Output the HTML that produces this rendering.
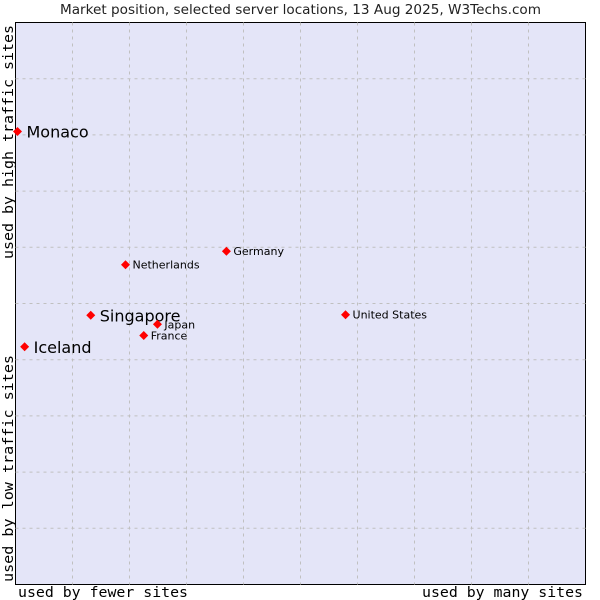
<!DOCTYPE html>
<html><head><meta charset="utf-8"><style>
body{margin:0;background:#fff;width:600px;height:600px;overflow:hidden}
svg{display:block}
</style></head><body>
<svg id="chart" width="600" height="600" xmlns="http://www.w3.org/2000/svg">
<text x="60" y="14" textLength="481" lengthAdjust="spacingAndGlyphs" font-family="DejaVu Sans, sans-serif" font-size="13" fill="#222">Market position, selected server locations, 13 Aug 2025, W3Techs.com</text>
<rect x="15.5" y="22.5" width="570" height="562" fill="#e4e5f8" stroke="#000" stroke-width="1"/>
<g id="grid"></g>
<g id="points"></g>
<text x="18" y="597" textLength="170" lengthAdjust="spacingAndGlyphs" font-family="DejaVu Sans Mono, monospace" font-size="14" fill="#000">used by fewer sites</text>
<text x="422" y="597" textLength="161" lengthAdjust="spacingAndGlyphs" font-family="DejaVu Sans Mono, monospace" font-size="14" fill="#000">used by many sites</text>
<text transform="translate(13,582) rotate(-90)" textLength="227" lengthAdjust="spacingAndGlyphs" font-family="DejaVu Sans Mono, monospace" font-size="14" fill="#000">used by low traffic sites</text>
<text transform="translate(13,259) rotate(-90)" textLength="234" lengthAdjust="spacingAndGlyphs" font-family="DejaVu Sans Mono, monospace" font-size="14" fill="#000">used by high traffic sites</text>
</svg>
<script>
const names = ["Monaco","Iceland","Singapore","Netherlands","Germany","Japan","France","United States"];
const xValues = [0.35,1.6,13.2,19.3,37.0,24.9,22.5,57.9];
const yValues = [80.6,42.3,47.9,56.9,59.3,46.3,44.3,48.0];
const bigLabel = [true,true,true,false,false,false,false,false];
const L=15.5,R=585.5,T=22.5,B=584.5;
const sx=v=>L+(R-L)*v/100, sy=v=>B-(B-T)*v/100;
const NS="http://www.w3.org/2000/svg";
const grid=document.getElementById('grid');
for(let i=1;i<10;i++){
  const x=L+(R-L)*i/10;
  const l=document.createElementNS(NS,'line');
  l.setAttribute('x1',x);l.setAttribute('x2',x);l.setAttribute('y1',T);l.setAttribute('y2',B);
  l.setAttribute('stroke','#c0c0c0');l.setAttribute('stroke-dasharray','3,4');
  
  
  grid.appendChild(l);
  const y=T+(B-T)*i/10;
  const h=document.createElementNS(NS,'line');
  h.setAttribute('x1',L);h.setAttribute('x2',R);h.setAttribute('y1',y);h.setAttribute('y2',y);
  h.setAttribute('stroke','#c0c0c0');h.setAttribute('stroke-dasharray','3,4');
  
  
  grid.appendChild(h);
}
const pts=document.getElementById('points');
names.forEach((n,i)=>{
  const x=sx(xValues[i]), y=sy(yValues[i]);
  const d=document.createElementNS(NS,'path');
  d.setAttribute('d',`M${x-4.5},${y} L${x},${y-4.5} L${x+4.5},${y} L${x},${y+4.5} Z`);
  d.setAttribute('fill','#f00');
  
  
  pts.appendChild(d);
  const t=document.createElementNS(NS,'text');
  t.setAttribute('x',x+(bigLabel[i]?9:7));
  t.setAttribute('y',y+(bigLabel[i]?6:4));
  t.setAttribute('font-family','DejaVu Sans, sans-serif');
  t.setAttribute('font-size',bigLabel[i]?16:11);
  t.setAttribute('fill','#000');
  t.textContent=n;
  
  
  pts.appendChild(t);
});
</script>
</body></html>
